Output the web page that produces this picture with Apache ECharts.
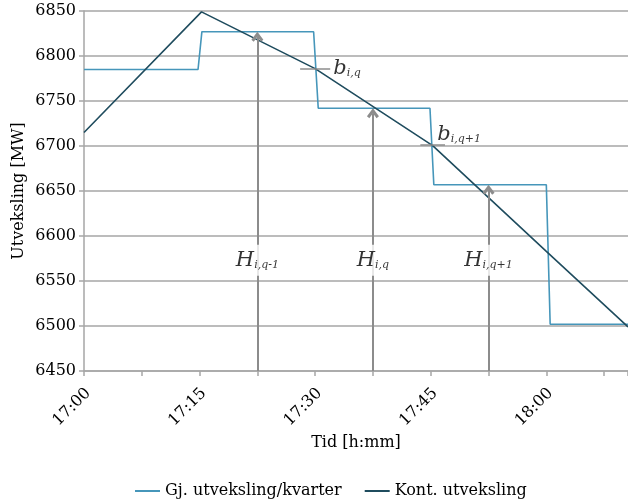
<!DOCTYPE html>
<html>
<head>
<meta charset="utf-8">
<script src="https://cdn.jsdelivr.net/npm/echarts@6/dist/echarts.min.js"></script>
<style>
html,body{margin:0;padding:0;background:#fff;}
#chart{width:628px;height:501px;}
</style>
</head>
<body>
<div id="chart"></div>
<script>
// ---- data (x in minutes after 17:00) ----
const xMaxMinutes = 70.6;
const quarterStepTimes  = [0, 14.8, 15.3, 29.8, 30.4, 44.9, 45.4, 60.0, 60.5, 70.6];
const quarterStepValues = [6785, 6785, 6827, 6827, 6742, 6742, 6657, 6657, 6502, 6502];
const contTimes  = [0, 15.25, 30, 45.25, 60, 70.6];
const contValues = [6715, 6849, 6786, 6700.5, 6583, 6499];
const yTicks = [6450, 6500, 6550, 6600, 6650, 6700, 6750, 6800, 6850];
const arrowTimes = [22.5, 37.5, 52.5];
const arrowTops  = [6827, 6742, 6657];
const hSubscripts = ['i,q-1', 'i,q', 'i,q+1'];
const hLabelValue = 6573;
const bTimes  = [30, 45.25];
const bValues = [6786, 6701];
const bSubscripts = ['i,q', 'i,q+1'];
const seriesNames = ['Gj. utveksling/kvarter', 'Kont. utveksling'];

const SERIF = 'DejaVu Serif';
const GRAY = '#a6a6a6';
const ARROW = '#8c8c8c';
const STEP_COLOR = '#4696ba';
const CONT_COLOR = '#1f4c5e';

function fmtTime(v){
  const m = Math.round(v);
  const h = 17 + Math.floor(m/60);
  const mm = m % 60;
  return h + ':' + (mm < 10 ? '0' : '') + mm;
}

const stepData = quarterStepTimes.map((t,i)=>[t, quarterStepValues[i]]);
const contData = contTimes.map((t,i)=>[t, contValues[i]]);

const chevron = 'path://M0,8 L5,0 L10,8 L8,10 L5,5 L2,10 Z';
const headHalf = 5.5; // value units: half of the head height

const arrowLines = arrowTimes.map((t,i)=>[
  {coord:[t, yTicks[0]], symbol:'none'},
  {coord:[t, arrowTops[i] - headHalf], symbol:chevron}
]);
const bTickHalf = [1.95, 1.6];
const bLines = bTimes.map((t,i)=>[
  {coord:[t - bTickHalf[i], bValues[i]], symbol:'none'},
  {coord:[t + bTickHalf[i], bValues[i]], symbol:'none'}
]);

const hRich = {
  H:{fontFamily:SERIF, fontStyle:'italic', fontSize:21, color:'#000', verticalAlign:'bottom'},
  s:{fontFamily:SERIF, fontStyle:'italic', fontSize:11, color:'#000', verticalAlign:'bottom'}
};

const chart = echarts.init(document.getElementById('chart'));
chart.setOption({
  animation:false,
  backgroundColor:'#fff',
  grid:{left:84, right:0, top:11, bottom:130, containLabel:false, outerBoundsMode:'none'},
  legend:{
    bottom:-3, left:130,
    icon:'rect',
    itemWidth:25, itemHeight:2, itemGap:23,
    textStyle:{fontFamily:SERIF, fontSize:16, color:'#000'},
    data:seriesNames
  },
  xAxis:{
    type:'value', min:0, max:xMaxMinutes, interval:7.5,
    name:'Tid [h:mm]', nameLocation:'middle', nameGap:64, nameMoveOverlap:false,
    nameTextStyle:{fontFamily:SERIF, fontSize:16, color:'#000'},
    axisLine:{show:true, lineStyle:{color:GRAY, width:1.5}},
    axisTick:{show:true, length:5, lineStyle:{color:GRAY, width:1.5}},
    splitLine:{show:false},
    axisLabel:{
      rotate:45, margin:24, padding:[0,-6,0,0], fontFamily:SERIF, fontSize:16, color:'#000',
      formatter:(v)=> (Math.abs(v % 15) < 1e-6 && v <= 60.01) ? fmtTime(v) : ''
    }
  },
  yAxis:{
    type:'value', min:yTicks[0], max:yTicks[yTicks.length-1], interval:50,
    name:'Utveksling [MW]', nameLocation:'middle', nameGap:57, nameRotate:90, nameMoveOverlap:false,
    nameTextStyle:{fontFamily:SERIF, fontSize:16, color:'#000'},
    axisLine:{show:true, lineStyle:{color:GRAY, width:1.5}},
    axisTick:{show:true, length:5, lineStyle:{color:GRAY, width:1.5}},
    splitLine:{show:true, lineStyle:{color:GRAY, width:1.5}},
    axisLabel:{margin:8, fontFamily:SERIF, fontSize:16, color:'#000', formatter:(v)=>String(v)}
  },
  series:[
    {
      name:seriesNames[0], type:'line', data:stepData, symbol:'none',
      lineStyle:{color:STEP_COLOR, width:1.6}, itemStyle:{color:STEP_COLOR}, z:3,
      markLine:{
        silent:true, animation:false,
        symbolSize:[12,10],
        label:{show:false},
        lineStyle:{color:ARROW, width:2, type:'solid'},
        data:arrowLines
      }
    },
    {
      name:seriesNames[1], type:'line', data:contData, symbol:'none',
      lineStyle:{color:CONT_COLOR, width:1.6}, itemStyle:{color:CONT_COLOR}, z:4,
      markLine:{
        silent:true, animation:false,
        symbol:'none', label:{show:false},
        lineStyle:{color:ARROW, width:1.5, type:'solid'},
        data:bLines
      }
    },
    {
      type:'scatter', symbolSize:0, z:10, silent:true,
      data:arrowTimes.map((t,i)=>({value:[t, hLabelValue], sub:hSubscripts[i]})),
      label:{
        show:true, position:'inside', align:'center', verticalAlign:'middle',
        backgroundColor:'#fff', padding:[5,2,5,2],
        formatter:(p)=> '{H|H}{s|' + p.data.sub + '}',
        rich:hRich
      }
    },
    {
      type:'scatter', symbolSize:0, z:10, silent:true,
      data:[
        {value:[32.35, 6786], sub:bSubscripts[0]},
        {value:[45.85, 6713], sub:bSubscripts[1]}
      ],
      label:{
        show:true, position:'inside', align:'left', verticalAlign:'middle',
        formatter:(p)=> '{H|b}{s|' + p.data.sub + '}',
        rich:hRich
      }
    }
  ]
});
</script>
</body>
</html>
